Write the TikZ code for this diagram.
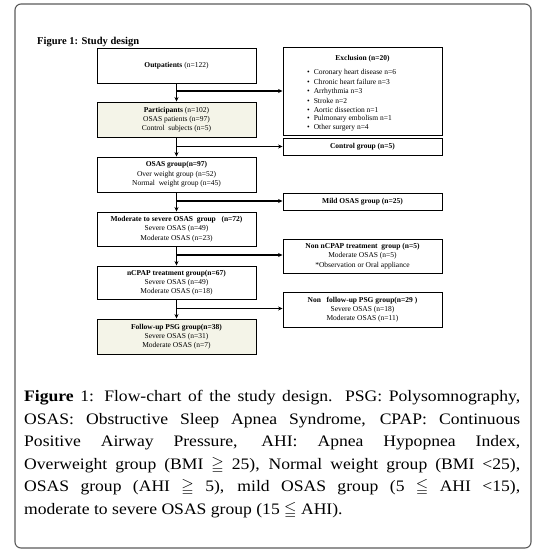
\documentclass[tikz,border=0pt]{standalone}
\usepackage{amssymb}
\usepackage{fontspec}
\setmainfont{Liberation Serif}
\newfontfamily\capfont[FakeStretch=1.1]{Liberation Serif}
\usetikzlibrary{arrows.meta}
\definecolor{beige}{RGB}{244,244,232}
\definecolor{framegray}{RGB}{90,90,90}
\tikzset{
  boxl/.style={draw=black, line width=0.9pt, minimum width=159pt, inner sep=0pt, align=center, font=\fontsize{7.5}{9.3}\selectfont},
  shaded/.style={fill=beige},
  arr/.style={line width=1.1pt, -{Stealth[length=4.5pt,width=4pt]}},
  itemtxt/.style={anchor=west, inner sep=0pt, font=\fontsize{7.5}{9.3}\selectfont},
  captxt/.style={anchor=base west, inner sep=0pt, font=\capfont\fontsize{16}{22.5}\selectfont}
}
\begin{document}
\begin{tikzpicture}[x=1pt,y=-1pt]
\useasboundingbox (0,0) rectangle (539,557);
\draw[framegray, line width=1.1pt, rounded corners=6pt] (15,4) rectangle (531,548);
\node[anchor=base west, inner sep=0pt, font=\fontsize{10.5}{12}\selectfont\bfseries] (title) at (37,44) {Figure 1: Study design};

% left column
\node[boxl, minimum height=35pt] (out) at (176.5,65.5) {\textbf{Outpatients} (n=122)};
\node[boxl, shaded, minimum height=35pt] (part) at (176.5,119.5) {\textbf{Participants} (n=102)\\OSAS patients (n=97)\\Control\ \ subjects (n=5)};
\node[boxl, minimum height=35pt] (osas) at (176.5,174.5) {\textbf{OSAS group(n=97)}\\Over weight group (n=52)\\Normal\ \ weight group (n=45)};
\node[boxl, minimum height=34pt] (mod) at (176.5,229) {\textbf{Moderate to severe OSAS\ \ group\ \ \ (n=72)}\\Severe OSAS (n=49)\\Moderate OSAS (n=23)};
\node[boxl, minimum height=33pt] (ncpap) at (176.5,282.5) {\textbf{nCPAP treatment group(n=67)}\\Severe OSAS (n=49)\\Moderate OSAS (n=18)};
\node[boxl, shaded, minimum height=35pt] (fu) at (176.5,336.5) {\textbf{Follow-up PSG group(n=38)}\\Severe OSAS (n=31)\\Moderate OSAS (n=7)};

% right column
\node[boxl, minimum height=88pt] (excl) at (362.5,91) {};
\node[inner sep=0pt, font=\fontsize{7.5}{9.3}\selectfont\bfseries] (exclt) at (362.5,59) {Exclusion (n=20)};
\node[itemtxt] (e1) at (307,73) {•\hspace{4pt}Coronary heart disease n=6};
\node[itemtxt] (e2) at (307,82.2) {•\hspace{4pt}Chronic heart failure n=3};
\node[itemtxt] (e3) at (307,91.4) {•\hspace{4pt}Arrhythmia n=3};
\node[itemtxt] (e4) at (307,100.6) {•\hspace{4pt}Stroke n=2};
\node[itemtxt] (e5) at (307,109.8) {•\hspace{4pt}Aortic dissection n=1};
\node[itemtxt] (e6) at (307,119) {•\hspace{4pt}Pulmonary embolism n=1};
\node[itemtxt] (e7) at (307,128.2) {•\hspace{4pt}Other surgery n=4};
\node[boxl, minimum height=17pt] (ctrl) at (362.5,146.5) {\textbf{Control group (n=5)}};
\node[boxl, minimum height=17pt] (mild) at (362.5,201.5) {\textbf{Mild OSAS group (n=25)}};
\node[boxl, minimum height=34pt] (nonc) at (362.5,256) {\textbf{Non nCPAP treatment\ \ group (n=5)}\\Moderate OSAS (n=5)\\*Observation or Oral appliance};
\node[boxl, minimum height=35pt] (nonf) at (362.5,309.5) {\textbf{Non\ \ \ follow-up PSG group(n=29\ )}\\Severe OSAS (n=18)\\Moderate OSAS (n=11)};

% vertical arrows
\draw[arr] (out) -- (part);
\draw[arr] (part) -- (osas);
\draw[arr] (osas) -- (mod);
\draw[arr] (mod) -- (ncpap);
\draw[arr] (ncpap) -- (fu);

% branch points
\coordinate (b1) at (176.5,91);
\coordinate (b2) at (176.5,146.5);
\coordinate (b3) at (176.5,201);
\coordinate (b4) at (176.5,255);
\coordinate (b5) at (176.5,308.5);
\draw[arr] (b1) -- (b1 -| excl.west);
\draw[arr] (b2) -- (b2 -| ctrl.west);
\draw[arr] (b3) -- (b3 -| mild.west);
\draw[arr] (b4) -- (b4 -| nonc.west);
\draw[arr] (b5) -- (b5 -| nonf.west);

% caption
\node[captxt] (c1) at (24,401.5) {\makebox[496pt][s]{\textbf{Figure} 1: Flow-chart of the study design. PSG: Polysomnography,}};
\node[captxt] (c2) at (24,424) {\makebox[496pt][s]{OSAS: Obstructive Sleep Apnea Syndrome, CPAP: Continuous}};
\node[captxt] (c3) at (24,446.5) {\makebox[496pt][s]{Positive Airway Pressure, AHI: Apnea Hypopnea Index,}};
\node[captxt] (c4) at (24,469) {\makebox[496pt][s]{Overweight group (BMI $\geqq$ 25), Normal weight group (BMI <25),}};
\node[captxt] (c5) at (24,491.5) {\makebox[496pt][s]{OSAS group (AHI $\geqq$ 5), mild OSAS group (5 $\leqq$ AHI <15),}};
\node[captxt] (c6) at (24,514) {moderate to severe OSAS group (15 $\leqq$ AHI).};
\end{tikzpicture}
\end{document}
